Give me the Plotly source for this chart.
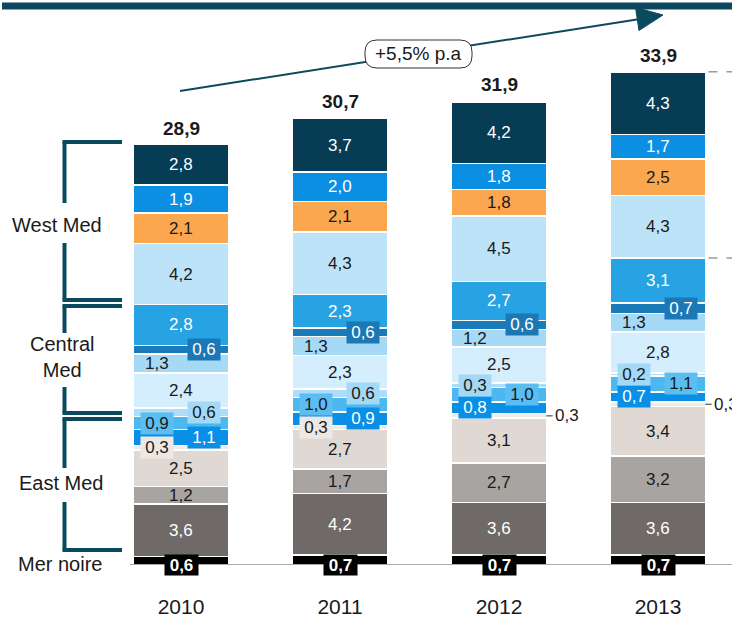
import plotly.graph_objects as go

# ---------------- data ----------------
years = ["2010", "2011", "2012", "2013"]
totals = [28.9, 30.7, 31.9, 33.9]

mer_noire = [0.6, 0.7, 0.7, 0.7]
east_dark = [3.6, 4.2, 3.6, 3.6]
east_mid = [1.2, 1.7, 2.7, 3.2]
east_light = [2.5, 2.7, 3.1, 3.4]
east_pale = [0.3, 0.3, 0.3, 0.3]
central_bright = [1.1, 0.9, 0.8, 0.7]
central_medium = [0.9, 1.0, 1.0, 1.1]
central_light = [0.6, 0.6, 0.3, 0.2]
central_pale = [2.4, 2.3, 2.5, 2.8]
central_soft = [1.3, 1.3, 1.2, 1.3]
central_deep = [0.6, 0.6, 0.6, 0.7]
central_blue = [2.8, 2.3, 2.7, 3.1]
west_pale = [4.2, 4.3, 4.5, 4.3]
west_orange = [2.1, 2.1, 1.8, 2.5]
west_bright = [1.9, 2.0, 1.8, 1.7]
west_navy = [2.8, 3.7, 4.2, 4.3]

growth_label = "+5,5% p.a"
group_labels = ["West Med", "Central<br>Med", "East Med", "Mer noire"]

# ---------------- styling ----------------
FONT = "Liberation Sans, Arial, sans-serif"
DARK = "#1a1a1a"
WHITE = "#ffffff"
TEAL = "#0B4A5E"
SEG_FS = 17

# (values, bar colour, text colour, label box colour, label positions per year)
series = [
    (mer_noire,      "#000000", WHITE, "#000000", ["base"] * 4),
    (east_dark,      "#6F6A68", WHITE, None,      ["c"] * 4),
    (east_mid,       "#A8A4A2", DARK,  None,      ["c"] * 4),
    (east_light,     "#E0D9D3", DARK,  None,      ["c"] * 4),
    (east_pale,      "#EFEBE7", DARK,  "#EDE8E4", ["l", "l", "o", "o"]),
    (central_bright, "#0A8FE6", WHITE, "#0A8FE6", ["r", "r", "l", "l"]),
    (central_medium, "#4DB8F0", DARK,  "#5ABEF2", ["l", "l", "r", "r"]),
    (central_light,  "#ADDDF8", DARK,  "#A3D8F6", ["r", "r", "l", "l"]),
    (central_pale,   "#D5EEFD", DARK,  None,      ["c"] * 4),
    (central_soft,   "#A6D9F6", DARK,  None,      ["l"] * 4),
    (central_deep,   "#1B7AB8", WHITE, "#1B78B5", ["r"] * 4),
    (central_blue,   "#27A2E2", WHITE, None,      ["c"] * 4),
    (west_pale,      "#BDE3F8", DARK,  None,      ["c"] * 4),
    (west_orange,    "#FBA74F", DARK,  None,      ["c"] * 4),
    (west_bright,    "#0B8FE3", WHITE, None,      ["c"] * 4),
    (west_navy,      "#063C54", WHITE, None,      ["c"] * 4),
]

W, H = 732, 619
MB = 54
PLOT_H = H - MB
PX_PER_UNIT = 14.55
Y_MAX = PLOT_H / PX_PER_UNIT
X0_PX, X_STEP = 181, 159
BAR_W = 0.595
OFF_L, OFF_R = -0.15, 0.145


def px(x):
    return x / W


def py(y):
    return (PLOT_H - y) / PLOT_H


def fmt(v):
    return f"{v:.1f}".replace(".", ",")


xs = list(range(len(years)))
fig = go.Figure()
for vals, color, _, _, _ in series:
    fig.add_trace(go.Bar(
        x=xs, y=vals, width=BAR_W,
        marker=dict(color=color, line=dict(color="white", width=1.5)),
        hoverinfo="skip", showlegend=False,
    ))

annotations = []
shapes = []

# segment labels
cum = [0.0] * len(years)
for vals, color, tcol, box, pos in series:
    for i, v in enumerate(vals):
        mid = cum[i] + v / 2
        p = pos[i]
        if p == "base":
            annotations.append(dict(x=i, y=0, xref="x", yref="y", text=f"<b>{fmt(v)}</b>",
                                    showarrow=False, font=dict(size=SEG_FS, color=tcol, family=FONT),
                                    bgcolor=box, width=31, height=18, borderpad=1,
                                    xanchor="center", yanchor="middle"))
        elif p == "c":
            annotations.append(dict(x=i, y=mid, xref="x", yref="y", text=fmt(v), showarrow=False,
                                    font=dict(size=SEG_FS, color=tcol, family=FONT),
                                    xanchor="center", yanchor="middle"))
        elif p in ("l", "r"):
            dx = OFF_L if p == "l" else OFF_R
            a = dict(x=i + dx, y=mid, xref="x", yref="y", text=fmt(v), showarrow=False,
                     font=dict(size=SEG_FS, color=tcol, family=FONT), xanchor="center", yanchor="middle")
            if box:
                a.update(bgcolor=box, width=28, height=17, borderpad=2)
            annotations.append(a)
        elif p == "o":
            shapes.append(dict(type="line", xref="x", yref="y", x0=i + BAR_W / 2, x1=i + BAR_W / 2 + 0.04,
                               y0=mid, y1=mid, line=dict(color="#333333", width=1)))
            annotations.append(dict(x=i + BAR_W / 2 + 0.04, y=mid, xref="x", yref="y", text=fmt(v),
                                    showarrow=False, xanchor="left", yanchor="middle",
                                    font=dict(size=SEG_FS, color=DARK, family=FONT)))
        cum[i] += v

# totals
for i, t in enumerate(totals):
    annotations.append(dict(x=i, y=t, xref="x", yref="y", text=f"<b>{fmt(t)}</b>", showarrow=False,
                            xanchor="center", yanchor="bottom", yshift=4,
                            font=dict(size=19, color=DARK, family=FONT)))

# baseline
shapes.append(dict(type="line", xref="paper", yref="y", x0=px(130), x1=1, y0=0, y1=0,
                   line=dict(color="#555555", width=1)))

# top band
shapes.append(dict(type="rect", xref="paper", yref="paper", x0=px(2), x1=1, y0=py(9.5), y1=py(2.5),
                   fillcolor=TEAL, line=dict(width=0)))

# growth arrow
tip = (663, 15)
shapes.append(dict(type="line", xref="paper", yref="paper", x0=px(180), y0=py(91),
                   x1=px(640), y1=py(19), line=dict(color=TEAL, width=2)))
shapes.append(dict(type="path", xref="paper", yref="paper",
                   path=f"M {px(tip[0])},{py(tip[1])} L {px(639)},{py(30.5)} L {px(635.5)},{py(7.5)} Z",
                   fillcolor=TEAL, line=dict(color=TEAL, width=1)))
bx0, bx1, by0, by1, r = 365, 472, 40, 68, 12
pts = lambda x, y: f"{px(x)},{py(y)}"
pill = (f"M {pts(bx0 + r, by0)} L {pts(bx1 - r, by0)} Q {pts(bx1, by0)} {pts(bx1, by0 + r)} "
        f"L {pts(bx1, by1 - r)} Q {pts(bx1, by1)} {pts(bx1 - r, by1)} L {pts(bx0 + r, by1)} "
        f"Q {pts(bx0, by1)} {pts(bx0, by1 - r)} L {pts(bx0, by0 + r)} Q {pts(bx0, by0)} {pts(bx0 + r, by0)} Z")
shapes.append(dict(type="path", xref="paper", yref="paper", path=pill, fillcolor="white",
                   line=dict(color="#333333", width=1)))
annotations.append(dict(x=px((bx0 + bx1) / 2), y=py((by0 + by1) / 2), xref="paper", yref="paper",
                        text=growth_label, showarrow=False, xanchor="center", yanchor="middle",
                        font=dict(size=19, color=DARK, family=FONT)))

# right dashed guides (2013)
top_west = sum(v[3] for v, *_ in series[:12])
for yv in (totals[3], top_west):
    shapes.append(dict(type="line", xref="x", yref="y", x0=3 + BAR_W / 2 + 0.02, x1=3.5, y0=yv, y1=yv,
                       line=dict(color="#9a9a9a", width=1.5, dash="dash")))

# left brackets
BX, BX2 = 64.5, 122
brackets = [(142, 300, 203, 243), (306, 413, 333, 387), (419, 550, 468, 502)]
for top, bot, g0, g1 in brackets:
    for a, b in ((top, g0), (g1, bot)):
        shapes.append(dict(type="line", xref="paper", yref="paper", x0=px(BX), x1=px(BX),
                           y0=py(a), y1=py(b), line=dict(color=TEAL, width=4)))
    for yy in (top, bot):
        shapes.append(dict(type="line", xref="paper", yref="paper", x0=px(BX - 2), x1=px(BX2),
                           y0=py(yy), y1=py(yy), line=dict(color=TEAL, width=4)))

label_pos = [(57, 225), (62, 357), (61, 483), (60, 564)]
for txt, (lx, ly) in zip(group_labels, label_pos):
    annotations.append(dict(x=px(lx), y=py(ly), xref="paper", yref="paper", text=txt, showarrow=False,
                            xanchor="center", yanchor="middle",
                            font=dict(size=20, color=DARK, family=FONT), align="center"))

fig.update_layout(
    width=W, height=H, barmode="stack",
    margin=dict(l=0, r=0, t=0, b=MB),
    paper_bgcolor="white", plot_bgcolor="white",
    font=dict(family=FONT, color=DARK),
    xaxis=dict(range=[-X0_PX / X_STEP, (W - X0_PX) / X_STEP], tickvals=xs, ticktext=years,
               tickfont=dict(size=21, color=DARK, family=FONT), showgrid=False, zeroline=False,
               showline=False, ticks="", ticklabelstandoff=27),
    yaxis=dict(range=[0, Y_MAX], visible=False, showgrid=False, zeroline=False),
    annotations=annotations, shapes=shapes, showlegend=False,
)

fig.write_html("out.html", config={"displayModeBar": False},
               post_script="document.body.style.margin='0';document.body.style.overflow='hidden';")
